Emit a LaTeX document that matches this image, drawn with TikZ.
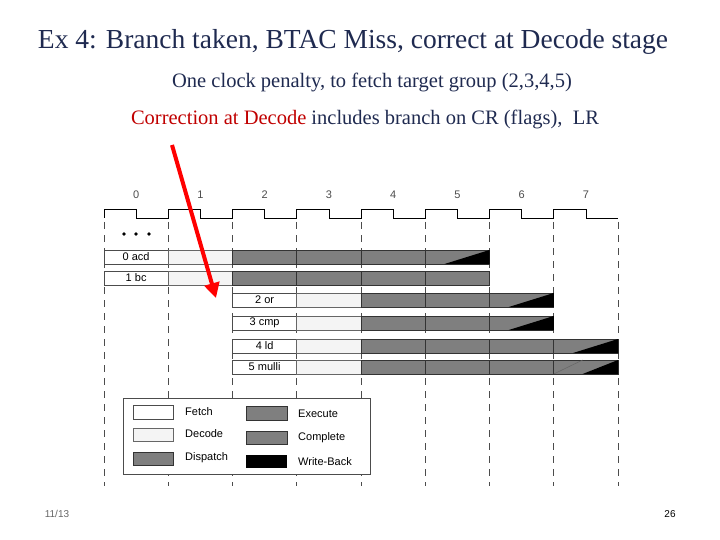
\documentclass[tikz,border=0pt]{standalone}
\usepackage{fontspec}
\setmainfont{Liberation Serif}
\newfontfamily\lsans{Liberation Sans}
\usetikzlibrary{arrows.meta}
\definecolor{dgray}{HTML}{7F7F7F}
\definecolor{lgray}{HTML}{F4F4F4}
\definecolor{redc}{HTML}{C00000}
\definecolor{navy}{HTML}{1F2A50}
\tikzset{
  fetchbox/.style={draw=black!70,fill=white,line width=0.6pt},
  decbox/.style={draw=black!60,fill=lgray,line width=0.6pt},
  dispbox/.style={draw=black!80,fill=dgray,line width=0.6pt},
  lbl/.style={font=\lsans\fontsize{11}{11}\selectfont,inner sep=0pt},
}
\begin{document}
\begin{tikzpicture}[x=1pt,y=-1pt]
\useasboundingbox (0,0) rectangle (720,540);
\node[text=navy] (title) at (353,42) {\fontsize{27.5}{29}\selectfont Ex 4: Branch taken, BTAC Miss, correct at Decode stage};
\node[text=navy] (sub1) at (372,82) {\fontsize{20.5}{22}\selectfont One clock penalty, to fetch target group (2,3,4,5)};
\node[text=navy] (sub2) at (365,119) {\fontsize{20.5}{22}\selectfont \textcolor{redc}{Correction at Decode} includes branch on CR (flags),\ \ LR};
% clock
\def\W{64.25}
\draw[line width=0.7pt] (104,218)
  \foreach \i in {0,...,7}{ -- ({104+\i*\W},209) -- ({104+\i*\W+\W/2},209) -- ({104+\i*\W+\W/2},218) -- ({104+(\i+1)*\W},218)};
\foreach \i in {0,...,7}{
  \node[lbl,text=black!70] (c\i) at ({104+\i*\W+\W/2},195) {\i};
}
\foreach \i in {0,...,8}{
  \draw[dashed,dash pattern=on 7pt off 6pt,line width=0.7pt,black!70] ({104+\i*\W},222) -- ({104+\i*\W},486);
}
\foreach \x in {124,136,149} \fill (\x,234) circle (1.9);
\newcommand{\instrow}[6]{%
  \draw[fetchbox] ({104+#3*\W},#1) rectangle ({104+(#3+1)*\W},#2);
  \node[lbl] at ({104+#3*\W+\W/2},{(#1+#2)/2}) {#6};
  \draw[decbox] ({104+(#3+1)*\W},#1) rectangle ({104+(#3+2)*\W},#2);
  \foreach \k in {#4}{\draw[dispbox] ({104+\k*\W},#1) rectangle ({104+(\k+1)*\W},#2);}
  \ifx&#5&\else
  \fill[black] ({104+#5*\W+0.3*\W},#2) -- ({104+(#5+1)*\W},#1) -- ({104+(#5+1)*\W},#2) -- cycle;
  \fi
}
\instrow{250}{264}{0}{2,3,4,5}{5}{0 acd}
\instrow{271}{285}{0}{2,3,4,5}{}{1 bc}
\instrow{293}{307}{2}{4,5,6}{6}{2 or}
\instrow{316}{330}{2}{4,5,6}{6}{3 cmp}
\instrow{339}{353}{2}{4,5,6,7}{7}{4 ld}
\instrow{360}{374}{2}{4,5,6,7}{}{5 mulli}
\fill[black] ({104+7*\W+0.45*\W},374) -- ({104+8*\W},360) -- ({104+8*\W},374) -- cycle;
\draw[black!60,line width=0.5pt] ({104+7*\W},374) -- ({104+7*\W+0.45*\W},360);
% legend
\draw[fill=white,draw=black!70,line width=0.7pt] (123,398) rectangle (370,474);
\draw[fetchbox] (133,405) rectangle (173,419);
\draw[decbox] (133,428) rectangle (173,441);
\draw[dispbox] (133,452) rectangle (173,465);
\draw[dispbox] (246,406) rectangle (287,420);
\draw[dispbox] (246,431) rectangle (287,444);
\fill[black] (246,455) rectangle (287,468);
\node[lbl,anchor=west] (lf) at (185,412) {Fetch};
\node[lbl,anchor=west] (ld) at (185,434) {Decode};
\node[lbl,anchor=west] (lp) at (185,458) {Dispatch};
\node[lbl,anchor=west] (le) at (298,414) {Execute};
\node[lbl,anchor=west] (lc) at (298,438) {Complete};
\node[lbl,anchor=west] (lw) at (298,462) {Write-Back};
% arrow
\coordinate (as) at (172,145);
\coordinate (ae) at (216,298);
\draw[red,line width=4pt,-{Triangle[length=15pt,width=15pt]}] (as) -- (ae);
\node[font=\lsans\fontsize{10}{10}\selectfont,text=black!60] (d) at (57,514) {11/13};
\node[font=\lsans\fontsize{10}{10}\selectfont] (p) at (670,514) {26};
\end{tikzpicture}
\end{document}
